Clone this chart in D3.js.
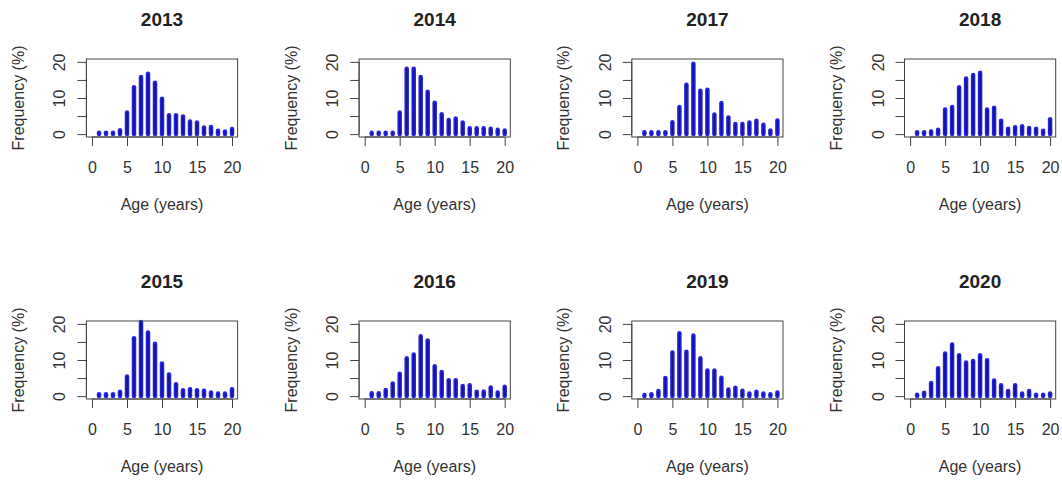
<!DOCTYPE html>
<html>
<head>
<meta charset="utf-8">
<script src="https://cdn.jsdelivr.net/npm/d3@7"></script>
<style>
  body { margin: 0; background: #fff; }
  text { font-family: "Liberation Sans", Arial, sans-serif; fill: #333; }
</style>
</head>
<body>
<div id="chart"></div>
<script>
// ages on the x axis
const ages = [1, 2, 3, 4, 5, 6, 7, 8, 9, 10, 11, 12, 13, 14, 15, 16, 17, 18, 19, 20];

// frequency (%) per age, one array per year
const freq2013 = [0.4, 0.4, 0.4, 1.1, 6.0, 13.0, 15.8, 16.7, 14.2, 9.8, 5.2, 5.2, 4.9, 3.5, 3.2, 1.8, 2.0, 0.9, 0.7, 1.4];
const freq2014 = [0.4, 0.4, 0.4, 0.4, 6.0, 18.1, 18.1, 15.8, 11.7, 8.7, 5.5, 3.9, 4.3, 3.2, 1.6, 1.6, 1.6, 1.5, 1.2, 1.0];
const freq2017 = [0.5, 0.5, 0.5, 0.5, 3.3, 7.5, 13.7, 19.5, 12.0, 12.3, 5.4, 8.6, 4.6, 2.8, 2.8, 3.2, 3.7, 2.6, 1.0, 3.8];
const freq2018 = [0.5, 0.5, 0.7, 1.2, 6.8, 7.5, 13.0, 15.4, 16.4, 17.0, 6.8, 7.3, 3.7, 1.5, 1.9, 2.2, 1.7, 1.5, 0.9, 4.1];
const freq2015 = [0.5, 0.5, 0.5, 1.2, 5.4, 16.0, 20.5, 17.6, 14.5, 9.0, 6.0, 3.3, 1.6, 1.9, 1.6, 1.5, 1.0, 0.7, 0.7, 1.9];
const freq2016 = [0.8, 0.8, 1.7, 3.5, 6.2, 10.5, 11.5, 16.6, 15.4, 8.3, 6.7, 4.4, 4.4, 2.8, 3.0, 1.2, 1.3, 2.4, 1.0, 2.6];
const freq2019 = [0.3, 0.5, 1.4, 5.0, 12.1, 17.4, 12.3, 16.8, 10.5, 7.1, 7.1, 5.1, 1.8, 2.3, 1.5, 0.7, 1.2, 0.7, 0.5, 1.0];
const freq2020 = [0.4, 0.9, 3.6, 7.7, 11.8, 14.3, 11.3, 9.3, 9.7, 11.3, 9.9, 4.3, 3.0, 1.4, 3.0, 0.7, 1.4, 0.4, 0.4, 0.7];

// panel order, row by row
const years = ["2013", "2014", "2017", "2018", "2015", "2016", "2019", "2020"];
const series = [freq2013, freq2014, freq2017, freq2018, freq2015, freq2016, freq2019, freq2020];

const xTicks = [0, 5, 10, 15, 20];
const yTicks = [0, 5, 10, 15, 20];
const yTickLabels = { 0: "0", 10: "10", 20: "20" };

const width = 1062, height = 489;
const svg = d3.select("#chart").append("svg")
    .attr("width", width)
    .attr("height", height);

// panel placement
const colStep = 272.7, rowStep = 262;
const firstX0 = 92;        // pixel of age 0 in first column
const boxTop = 59, boxBottom = 137;

series.forEach(function(values, i) {
  const col = i % 4, row = Math.floor(i / 4);
  const x0 = firstX0 + col * colStep;
  const top = boxTop + row * rowStep, bottom = boxBottom + row * rowStep;

  const x = d3.scaleLinear().domain([-0.8, 20.8]).range([x0 - 5.6, x0 + 145.6]);
  const y = d3.scaleLinear().domain([-0.8, 20.8]).range([bottom, top]);

  const g = svg.append("g");

  // bars (type = "h")
  const data = ages.map((a, k) => ({ age: a, v: values[k] }));
  g.selectAll("line.bar")
    .data(data)
    .join("line")
      .attr("class", "bar")
      .attr("x1", d => x(d.age)).attr("x2", d => x(d.age))
      .attr("y1", y(0)).attr("y2", d => y(d.v))
      .attr("stroke", "#2323e6")
      .attr("stroke-width", 4.5)
      .attr("stroke-linecap", "round");
  g.selectAll("line.core")
    .data(data)
    .join("line")
      .attr("class", "core")
      .attr("x1", d => x(d.age)).attr("x2", d => x(d.age))
      .attr("y1", y(0)).attr("y2", d => y(d.v))
      .attr("stroke", "#14148a")
      .attr("stroke-width", 1.6);

  // box
  g.append("rect")
    .attr("x", x(-0.8)).attr("y", top)
    .attr("width", x(20.8) - x(-0.8)).attr("height", bottom - top)
    .attr("fill", "none").attr("stroke", "#444").attr("stroke-width", 1);

  // x axis
  const xa = g.append("g").attr("transform", `translate(0,${bottom})`)
    .call(d3.axisBottom(x).tickValues(xTicks).tickSize(9).tickPadding(16).tickFormat(d3.format("d")));
  xa.select(".domain").attr("d", `M${x(0)},0H${x(20)}`).attr("stroke", "#444");
  xa.selectAll(".tick line").attr("stroke", "#444");
  xa.selectAll(".tick text").attr("font-size", 16).attr("fill", "#333")
    .attr("font-family", "Liberation Sans, Arial, sans-serif");

  // y axis
  const ya = g.append("g").attr("transform", `translate(${x(-0.8)},0)`)
    .call(d3.axisLeft(y).tickValues(yTicks).tickSize(9).tickFormat(d => yTickLabels[d] || ""));
  ya.select(".domain").attr("d", `M0,${y(0)}V${y(20)}`).attr("stroke", "#444");
  ya.selectAll(".tick line").attr("stroke", "#444");
  ya.selectAll(".tick text")
    .attr("x", null).attr("dy", null)
    .attr("transform", "translate(-21,0) rotate(-90)")
    .attr("text-anchor", "middle")
    .attr("font-size", 16).attr("fill", "#333")
    .attr("font-family", "Liberation Sans, Arial, sans-serif");

  // titles
  g.append("text")
    .attr("x", x0 + 70).attr("y", 26 + row * rowStep)
    .attr("text-anchor", "middle")
    .attr("font-size", 19).attr("font-weight", "bold").style("fill", "#222")
    .text(years[i]);

  g.append("text")
    .attr("x", x0 + 70).attr("y", 210 + row * rowStep)
    .attr("text-anchor", "middle")
    .attr("font-size", 16)
    .text("Age (years)");

  g.append("text")
    .attr("transform", `translate(${x0 - 68},${(top + bottom) / 2}) rotate(-90)`)
    .attr("text-anchor", "middle")
    .attr("font-size", 16)
    .text("Frequency (%)");
});
</script>
</body>
</html>
